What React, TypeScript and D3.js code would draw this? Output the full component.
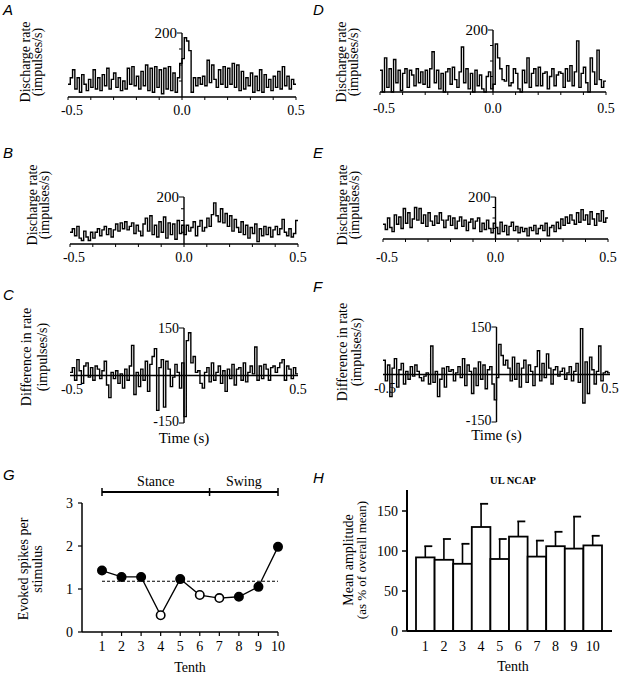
import React from 'react';
import * as d3 from 'd3';

// ---- Data ----
const binStart = -0.5;
const binWidth = 0.01;

const histA = [40, 60, 85, 25, 60, 15, 70, 40, 20, 55,
  30, 85, 25, 60, 20, 70, 35, 90, 25, 55,
  75, 30, 60, 20, 50, 25, 90, 40, 95, 35,
  65, 25, 80, 35, 100, 20, 90, 15, 95, 30,
  85, 10, 90, 25, 95, 20, 75, 15, 60, 105,
  120, 185, 175, 145, 15, 60, 35, 60, 40, 65,
  35, 115, 45, 100, 55, 30, 85, 40, 95, 30,
  90, 40, 105, 30, 100, 20, 80, 25, 60, 35,
  75, 15, 65, 20, 85, 15, 70, 30, 55, 20,
  65, 30, 80, 25, 95, 35, 65, 25, 55, 40];

const histD = [70, 0, 110, 15, 75, 0, 105, 30, 70, 5,
  60, 75, 15, 70, 55, 20, 75, 30, 65, 25,
  70, 15, 75, 130, 30, 70, 10, 60, 0, 65,
  75, 25, 80, 40, 15, 65, 145, 30, 75, 10,
  60, 0, 70, 20, 55, 10, 0, 50, 65, 10,
  25, 155, 110, 75, 40, 35, 85, 20, 30, 75,
  60, 10, 0, 70, 30, 110, 15, 60, 75, 20,
  80, 20, 60, 65, 10, 50, 75, 20, 55, 65,
  60, 15, 75, 35, 85, 20, 65, 165, 15, 60,
  80, 30, 0, 110, 65, 25, 135, 40, 15, 35];

const histB = [50, 65, 35, 75, 25, 15, 55, 30, 15, 50,
  25, 50, 65, 35, 60, 75, 40, 65, 30, 60,
  85, 55, 90, 65, 95, 60, 75, 90, 45, 80,
  55, 35, 85, 110, 55, 120, 40, 80, 30, 95,
  50, 115, 25, 90, 40, 85, 20, 100, 45, 80,
  40, 80, 55, 70, 95, 35, 75, 100, 55, 70,
  110, 75, 125, 175, 120, 95, 150, 90, 130, 75,
  120, 55, 105, 70, 50, 95, 40, 80, 25, 70,
  45, 85, 10, 65, 35, 75, 40, 70, 30, 60,
  75, 40, 65, 105, 50, 35, 65, 30, 45, 100];

const histE = [70, 45, 100, 55, 35, 115, 70, 105, 50, 145,
  75, 125, 55, 95, 150, 90, 145, 75, 115, 60,
  125, 85, 65, 110, 75, 125, 90, 55, 90, 110,
  65, 100, 50, 85, 105, 60, 90, 40, 80, 95,
  50, 85, 100, 35, 75, 45, 90, 50, 30, 75,
  55, 25, 80, 35, 65, 20, 60, 80, 40, 60,
  30, 55, 35, 50, 15, 55, 40, 65, 25, 50,
  65, 40, 75, 15, 55, 65, 35, 80, 50, 95,
  65, 105, 75, 115, 90, 70, 125, 80, 140, 90,
  115, 70, 130, 95, 65, 120, 85, 135, 80, 100];

const histC = [10, 25, -15, 50, 15, -25, 30, 40, -5, 25,
  -15, 30, 20, -10, 15, 45, -30, -70, 10, -10,
  15, -25, 5, -40, 20, -15, 30, 95, -60, 10,
  -35, 20, -15, 45, -50, 35, 60, 85, -110, 25,
  50, -100, 45, 20, -35, -5, 35, 10, -40, 40,
  -130, 110, 135, 40, 60, 10, 15, -25, -40, 10,
  25, -20, 40, -15, 10, 30, -25, 15, -50, 20,
  -10, 35, -30, 20, 25, -15, 40, -20, 10, 30,
  5, 90, -15, 30, -10, 35, 20, -15, 25, 30,
  10, 25, 40, 50, -15, 30, 20, -10, 25, 5];

const histF = [45, -20, 30, -70, 20, 50, -40, 15, 35, -30,
  10, -15, 25, -5, 30, 10, -10, -20, -5, 5,
  -30, 90, -25, 10, -70, -15, 20, -40, 25, 10,
  15, -20, 5, 25, -10, 50, -35, 30, 10, -60,
  20, -35, 40, -15, 30, -45, 15, 25, -30, -80,
  -10, 95, 60, 30, 45, 20, -20, 55, -15, 35,
  -40, 20, 45, -25, 30, 10, -35, 25, 75, -20,
  35, -10, 65, 20, -30, 15, 25, -5, 10, 20,
  -15, 5, 25, -20, 10, 35, -25, 145, -90, 40,
  -60, 55, 15, -30, 10, 90, -20, 5, 10, 5];

const timeTicks = [-0.5, -0.4, -0.3, -0.2, -0.1, 0, 0.1, 0.2, 0.3, 0.4, 0.5];
const rateTicks = [50, 100, 150, 200];

const tenths = [1, 2, 3, 4, 5, 6, 7, 8, 9, 10];
const evoked = [1.43, 1.28, 1.28, 0.39, 1.23, 0.86, 0.79, 0.82, 1.05, 1.98];
const evokedOpen = [false, false, false, true, false, true, true, false, false, false];
const evokedMean = 1.18;
const evokedTicks = [0, 1, 2, 3];
const phaseBounds = [1, 6.5, 10];

const ampMean = [92, 89, 84, 130, 90, 118, 93, 106, 103, 107];
const ampErr = [14, 26, 25, 29, 25, 19, 20, 18, 40, 12];
const ampTicks = [0, 50, 100, 150];

const serif = '"Liberation Serif", "Times New Roman", serif';
const sans = '"Liberation Sans", Arial, sans-serif';
const FS = 14;

type Sc = d3.ScaleLinear<number, number>;

function Hist({ data, x, y }: { data: number[]; x: Sc; y: Sc }) {
  const pts: [number, number][] = data.map((v, i) => [binStart + i * binWidth, v]);
  pts.push([binStart + data.length * binWidth, data[data.length - 1]]);
  const line = d3.line<[number, number]>().x(d => x(d[0])).y(d => y(d[1])).curve(d3.curveStepAfter);
  return <path d={line(pts) || ''} fill="none" stroke="#000" strokeWidth={1.4} />;
}

function Letter({ t, x, y }: { t: string; x: number; y: number }) {
  return <text x={x} y={y} fontFamily={sans} fontStyle="italic" fontSize={15}>{t}</text>;
}

function VLabel({ t, x, cy, size = FS }: { t: string; x: number; cy: number; size?: number }) {
  return (
    <text transform={`translate(${x},${cy}) rotate(-90)`} textAnchor="middle" fontFamily={serif} fontSize={size}>{t}</text>
  );
}

function RatePanel(p: {
  data: number[]; xr: [number, number]; yr: [number, number]; letter: string; lx: number; ly: number;
  lab1: number; lab2: number; labCy: number; tickY: number;
}) {
  const x = d3.scaleLinear().domain([-0.5, 0.5]).range(p.xr);
  const y = d3.scaleLinear().domain([0, 200]).range(p.yr);
  const x0 = x(0);
  return (
    <g>
      <Letter t={p.letter} x={p.lx} y={p.ly} />
      <VLabel t="Discharge rate" x={p.lab1} cy={p.labCy} />
      <VLabel t="(impulses/s)" x={p.lab2} cy={p.labCy} />
      <Hist data={p.data} x={x} y={y} />
      <line x1={p.xr[0]} x2={p.xr[1]} y1={y(0)} y2={y(0)} stroke="#000" strokeWidth={1.4} />
      {timeTicks.map(t => (
        <line key={t} x1={x(t)} x2={x(t)} y1={y(0)} y2={y(0) + 3} stroke="#000" strokeWidth={1} />
      ))}
      <line x1={x0} x2={x0} y1={y(0)} y2={y(200)} stroke="#000" strokeWidth={1.4} />
      {rateTicks.map(v => (
        <line key={v} x1={x0 - (v === 200 ? 5 : 3)} x2={x0} y1={y(v)} y2={y(v)} stroke="#000" strokeWidth={1} />
      ))}
      <text x={x0 - 5} y={y(200) + 5} textAnchor="end" fontFamily={serif} fontSize={15}>200</text>
      <text x={x(-0.5) + 4} y={p.tickY} textAnchor="middle" fontFamily={serif} fontSize={FS}>-0.5</text>
      <text x={x(0)} y={p.tickY} textAnchor="middle" fontFamily={serif} fontSize={FS}>0.0</text>
      <text x={x(0.5)} y={p.tickY} textAnchor="middle" fontFamily={serif} fontSize={FS}>0.5</text>
    </g>
  );
}

function DiffPanel(p: {
  data: number[]; xr: [number, number]; yr: [number, number]; letter: string; lx: number; ly: number;
  lab1: number; lab2: number; labCy: number; tickY: number; timeY: number;
}) {
  const x = d3.scaleLinear().domain([-0.5, 0.5]).range(p.xr);
  const y = d3.scaleLinear().domain([-150, 150]).range(p.yr);
  const x0 = x(0);
  return (
    <g>
      <Letter t={p.letter} x={p.lx} y={p.ly} />
      <VLabel t="Difference in rate" x={p.lab1} cy={p.labCy} />
      <VLabel t="(impulses/s)" x={p.lab2} cy={p.labCy} />
      <text x={x(-0.5) + 2} y={p.tickY} textAnchor="middle" fontFamily={serif} fontSize={FS}>-0.5</text>
      <text x={x(0.5)} y={p.tickY} textAnchor="middle" fontFamily={serif} fontSize={FS}>0.5</text>
      <Hist data={p.data} x={x} y={y} />
      <line x1={p.xr[0]} x2={p.xr[1]} y1={y(0)} y2={y(0)} stroke="#000" strokeWidth={1.3} />
      <line x1={x0} x2={x0} y1={y(-150)} y2={y(150)} stroke="#000" strokeWidth={1.4} />
      {[-150, 150].map(v => (
        <line key={v} x1={x0 - 5} x2={x0} y1={y(v)} y2={y(v)} stroke="#000" strokeWidth={1} />
      ))}
      <text x={x0 - 5} y={y(150) + 5} textAnchor="end" fontFamily={serif} fontSize={FS}>150</text>
      <text x={x0 - 5} y={y(-150) + 3} textAnchor="end" fontFamily={serif} fontSize={FS}>-150</text>
      <text x={x0} y={p.timeY} textAnchor="middle" fontFamily={serif} fontSize={15}>Time (s)</text>
    </g>
  );
}

function PanelG() {
  const x = d3.scaleLinear().domain([1, 10]).range([102, 278]);
  const y = d3.scaleLinear().domain([0, 3]).range([632, 503]);
  const line = d3.line<number>().x((_, i) => x(tenths[i])).y(d => y(d));
  const bY = 492;
  return (
    <g>
      <Letter t="G" x={3} y={480} />
      <text x={(x(phaseBounds[0]) + x(phaseBounds[1])) / 2} y={486} textAnchor="middle" fontFamily={serif} fontSize={FS}>Stance</text>
      <text x={(x(phaseBounds[1]) + x(phaseBounds[2])) / 2} y={486} textAnchor="middle" fontFamily={serif} fontSize={FS}>Swing</text>
      <line x1={x(phaseBounds[0])} x2={x(phaseBounds[2])} y1={bY} y2={bY} stroke="#000" strokeWidth={2} />
      {phaseBounds.map(b => (
        <line key={b} x1={x(b)} x2={x(b)} y1={bY - 4} y2={bY + 4} stroke="#000" strokeWidth={1.5} />
      ))}
      <VLabel t="Evoked spikes per" x={28} cy={569} />
      <VLabel t="stimulus" x={42} cy={569} />
      <line x1={82} x2={82} y1={y(0)} y2={y(3)} stroke="#000" strokeWidth={1.5} />
      <line x1={82} x2={x(10)} y1={y(0)} y2={y(0)} stroke="#000" strokeWidth={1.5} />
      {evokedTicks.map(v => (
        <g key={v}>
          <line x1={78} x2={82} y1={y(v)} y2={y(v)} stroke="#000" strokeWidth={1.2} />
          <text x={73} y={y(v) + 5} textAnchor="end" fontFamily={serif} fontSize={FS}>{v}</text>
        </g>
      ))}
      {tenths.map(t => (
        <g key={t}>
          <line x1={x(t)} x2={x(t)} y1={y(0)} y2={y(0) + 4} stroke="#000" strokeWidth={1.2} />
          <text x={x(t)} y={651} textAnchor="middle" fontFamily={serif} fontSize={FS}>{t}</text>
        </g>
      ))}
      <text x={190} y={672} textAnchor="middle" fontFamily={serif} fontSize={FS}>Tenth</text>
      <line x1={x(1)} x2={x(10)} y1={y(evokedMean)} y2={y(evokedMean)} stroke="#000" strokeWidth={1.2} strokeDasharray="3,2" />
      <path d={line(evoked) || ''} fill="none" stroke="#000" strokeWidth={1.3} />
      {evoked.map((v, i) => (
        <circle key={i} cx={x(tenths[i])} cy={y(v)} r={4.2} fill={evokedOpen[i] ? '#fff' : '#000'} stroke="#000" strokeWidth={1.6} />
      ))}
    </g>
  );
}

function PanelH() {
  const x = d3.scaleBand<number>().domain(tenths).range([416, 602]).padding(0);
  const y = d3.scaleLinear().domain([0, 150]).range([631, 511]);
  const bw = x.bandwidth();
  return (
    <g>
      <Letter t="H" x={313} y={483} />
      <text x={513} y={484} textAnchor="middle" fontFamily={serif} fontSize={10.5} fontWeight="bold">UL NCAP</text>
      <VLabel t="Mean amplitude" x={353} cy={560} />
      <VLabel t="(as % of overall mean)" x={366} cy={560} size={13} />
      {tenths.map((t, i) => {
        const cx = (x(t) as number) + bw / 2;
        const top = y(ampMean[i]);
        const et = y(ampMean[i] + ampErr[i]);
        return (
          <g key={t}>
            <line x1={cx} x2={cx} y1={top} y2={et} stroke="#000" strokeWidth={1.6} />
            <line x1={cx - 1} x2={cx + 7} y1={et} y2={et} stroke="#000" strokeWidth={1.8} />
            <rect x={x(t)} y={top} width={bw} height={y(0) - top} fill="#fff" stroke="#000" strokeWidth={1.8} />
            <text x={cx} y={651} textAnchor="middle" fontFamily={serif} fontSize={FS}>{t}</text>
          </g>
        );
      })}
      <line x1={407} x2={407} y1={y(0)} y2={490} stroke="#000" strokeWidth={2} />
      <line x1={407} x2={612} y1={y(0)} y2={y(0)} stroke="#000" strokeWidth={2} />
      {ampTicks.map(v => (
        <g key={v}>
          <line x1={402} x2={407} y1={y(v)} y2={y(v)} stroke="#000" strokeWidth={1.5} />
          <text x={398} y={y(v) + 5} textAnchor="end" fontFamily={serif} fontSize={FS}>{v}</text>
        </g>
      ))}
      <text x={513} y={671} textAnchor="middle" fontFamily={serif} fontSize={FS}>Tenth</text>
    </g>
  );
}

export default function App() {
  return (
    <svg width={620} height={674} style={{ position: 'absolute', left: 0, top: 0, background: '#fff' }}>
      <rect width={620} height={674} fill="#fff" />
      <RatePanel data={histA} xr={[68, 296]} yr={[97, 33]} letter="A" lx={3} ly={15}
        lab1={30} lab2={42} labCy={62} tickY={115} />
      <RatePanel data={histD} xr={[380, 606]} yr={[92, 30]} letter="D" lx={313} ly={15}
        lab1={346} lab2={358} labCy={62} tickY={113} />
      <RatePanel data={histB} xr={[70, 298]} yr={[244, 197]} letter="B" lx={3} ly={158}
        lab1={37} lab2={49} labCy={205} tickY={262} />
      <RatePanel data={histE} xr={[383, 608]} yr={[239, 197]} letter="E" lx={313} ly={158}
        lab1={347} lab2={359} labCy={205} tickY={262} />
      <DiffPanel data={histC} xr={[70, 298]} yr={[423, 328]} letter="C" lx={3} ly={300}
        lab1={31} lab2={47} labCy={357} tickY={394} timeY={443} />
      <DiffPanel data={histF} xr={[383, 610]} yr={[422, 327]} letter="F" lx={313} ly={292}
        lab1={347} lab2={361} labCy={352} tickY={393} timeY={440} />
      <PanelG />
      <PanelH />
    </svg>
  );
}
